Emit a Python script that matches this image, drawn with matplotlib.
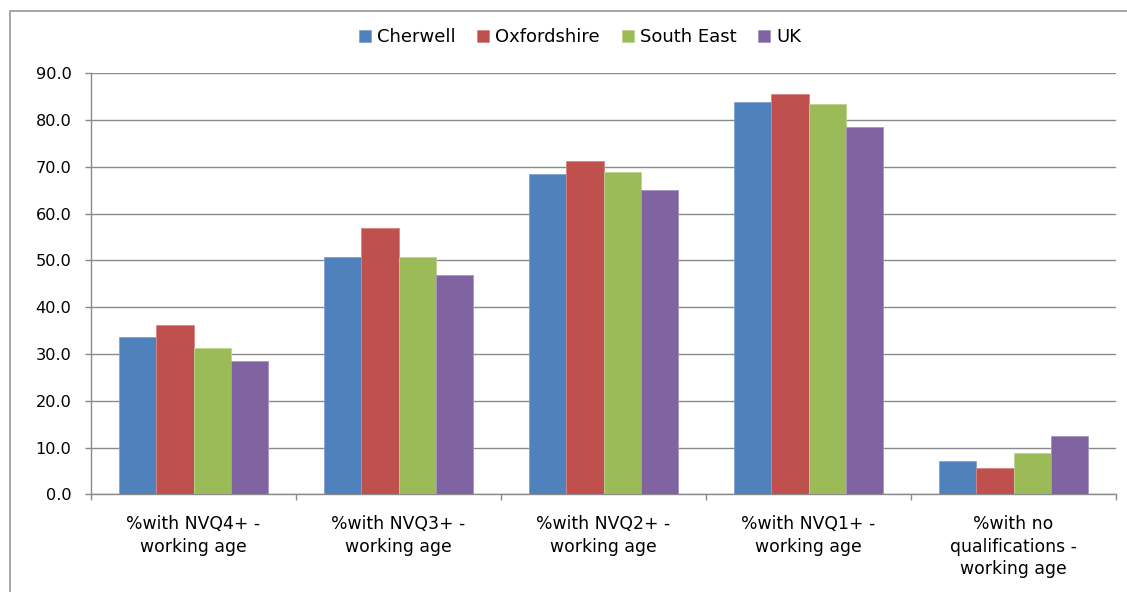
import matplotlib
matplotlib.use("Agg")
import matplotlib.pyplot as plt
from matplotlib.patches import Rectangle
import numpy as np

categories = [
    "%with NVQ4+ -\nworking age",
    "%with NVQ3+ -\nworking age",
    "%with NVQ2+ -\nworking age",
    "%with NVQ1+ -\nworking age",
    "%with no\nqualifications -\nworking age",
]
series_names = ["Cherwell", "Oxfordshire", "South East", "UK"]
cherwell = [33.6, 50.7, 68.5, 83.8, 7.2]
oxfordshire = [36.2, 57.0, 71.3, 85.6, 5.6]
south_east = [31.2, 50.7, 68.8, 83.5, 8.8]
uk = [28.6, 46.8, 65.0, 78.6, 12.5]
y_ticks = [0, 10, 20, 30, 40, 50, 60, 70, 80, 90]

colors = ["#4F81BD", "#C0504D", "#9BBB59", "#8064A2"]
edges = ["#7FA3D1", "#D98583", "#BCD38D", "#A893C2"]
grey = "#8A8A8A"

plt.rcParams["font.family"] = ["DejaVu Sans"]

W, H = 1127, 592
fig = plt.figure(figsize=(W / 100, H / 100), dpi=100)
ax = fig.add_axes([91 / W, 1 - 494.3 / H, (1116 - 91) / W, (494.3 - 73.3) / H])

x = np.arange(len(categories))
bw = 0.1815
for i, (vals, name) in enumerate(zip([cherwell, oxfordshire, south_east, uk], series_names)):
    ax.bar(x + (i - 1.5) * bw, vals, width=bw, color=colors[i], edgecolor=edges[i],
           linewidth=0.6, label=name, zorder=3)

ax.set_xlim(-0.5, len(categories) - 0.5)
ax.set_ylim(0, 90)
ax.set_yticks(y_ticks)
ax.set_yticklabels([f"{v:.1f}" for v in y_ticks], fontsize=11.6, color="#000000")
ax.yaxis.grid(True, color=grey, linewidth=1.0, zorder=0)
ax.set_axisbelow(True)

ax.set_xticks(x)
ax.set_xticklabels(categories, fontsize=12.4, linespacing=1.32, va="top")
ax.set_xticks(np.arange(len(categories) + 1) - 0.5, minor=True)
ax.tick_params(axis="x", which="major", length=0, pad=15)
ax.tick_params(axis="x", which="minor", length=4, width=1.0, color=grey, direction="out")
ax.tick_params(axis="y", length=4, width=1.0, color=grey, direction="out", pad=10)

for s in ["top", "right"]:
    ax.spines[s].set_visible(False)
for s in ["left", "bottom"]:
    ax.spines[s].set_color(grey)
    ax.spines[s].set_linewidth(1.0)

leg = fig.legend(loc="center", bbox_to_anchor=(580 / W, 1 - 37 / H), ncol=4,
                 frameon=False, fontsize=13, handlelength=0.66, handleheight=0.66,
                 handletextpad=0.35, columnspacing=1.2, borderaxespad=0)

# outer chart frame
fig.patches.append(Rectangle((10 / W, -0.2), 1.5, 1.2 - 11 / H, transform=fig.transFigure,
                             fill=False, edgecolor="#A6A6A6", linewidth=1.4))

fig.savefig("out.png", dpi=100, facecolor="white")
